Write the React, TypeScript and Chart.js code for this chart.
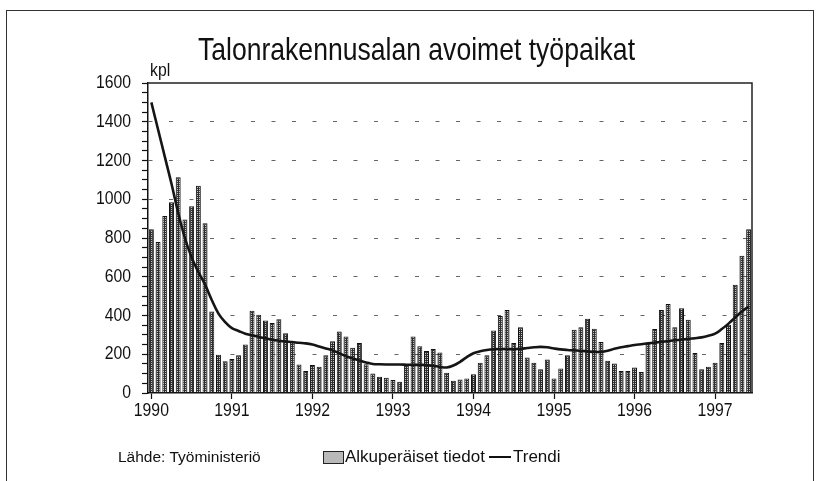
import { useEffect, useRef } from "react";
import { Chart, registerables } from "chart.js";

Chart.register(...registerables);

const years = ["1990", "1991", "1992", "1993", "1994", "1995", "1996", "1997"];
const monthsPerYear = 12;
const monthCount = 90;

const originalValues = [
  845, 780, 913, 985, 1113, 896, 964, 1070, 876, 421, 198, 164,
  176, 195, 250, 424, 404, 374, 361, 381, 309, 263, 147, 113,
  144, 135, 195, 267, 318, 292, 233, 258, 149, 101, 84, 79,
  67, 58, 144, 292, 241, 217, 227, 209, 104, 63, 70, 75,
  97, 156, 195, 323, 397, 429, 258, 340, 183, 156, 123, 173,
  75, 127, 195, 327, 340, 383, 332, 263, 166, 152, 114, 113,
  132, 109, 258, 330, 429, 460, 340, 438, 378, 207, 123, 135,
  156, 258, 352, 559, 708, 845,
];

const trendValues = [
  1500, 1360, 1220, 1080, 930, 800, 700, 625, 560, 480, 410, 366,
  335, 320, 306, 298, 290, 282, 275, 270, 266, 263, 259, 256,
  250, 240, 230, 220, 205, 190, 178, 168, 158, 150, 148, 147,
  147, 147, 146, 145, 145, 144, 140, 135, 132, 142, 161, 185,
  205, 215, 222, 226, 227, 227, 226, 228, 232, 236, 238, 236,
  230, 225, 222, 220, 218, 215, 212, 212, 218, 228, 236, 242,
  248, 252, 256, 260, 264, 268, 272, 275, 280, 283, 287, 295,
  306, 330, 358, 390, 421, 446,
];

const yTickStep = 50;
const yLabelStep = 200;
const yMax = 1600;

const categories: string[] = years
  .flatMap((y) => Array.from({ length: monthsPerYear }, (_, m) => `${y}-${String(m + 1).padStart(2, "0")}`))
  .slice(0, monthCount);

const FONT = '"Liberation Sans", Arial, Helvetica, sans-serif';
const NARROW = 0.83;

function makePattern(ctx: CanvasRenderingContext2D) {
  const c = document.createElement("canvas");
  c.width = 2;
  c.height = 2;
  const g = c.getContext("2d")!;
  g.fillStyle = "#2e2e2e";
  g.fillRect(0, 0, 2, 2);
  g.fillStyle = "#c4c4c4";
  g.fillRect(1, 1, 1, 1);
  return ctx.createPattern(c, "repeat")!;
}

const framePlugin = {
  id: "frame",
  afterDraw(chart: any) {
    const { ctx, chartArea } = chart;
    ctx.save();
    ctx.strokeStyle = "#222";
    ctx.lineWidth = 1.5;
    ctx.beginPath();
    ctx.moveTo(chartArea.left, chartArea.top);
    ctx.lineTo(chartArea.right, chartArea.top);
    ctx.lineTo(chartArea.right, chartArea.bottom);
    ctx.stroke();
    ctx.restore();
  },
};

// Tick labels in a narrow (condensed) rendering, placed with the chart's own scales.
const narrowLabelPlugin = {
  id: "narrowLabels",
  afterDraw(chart: any) {
    const { ctx } = chart;
    const xs = chart.scales.x;
    const ys = chart.scales.y;
    ctx.save();
    ctx.fillStyle = "#111";
    ctx.font = `19px ${FONT}`;
    ctx.textBaseline = "middle";
    ctx.textAlign = "right";
    for (const t of ys.ticks) {
      if (t.value % yLabelStep !== 0) continue;
      const py = ys.getPixelForValue(t.value);
      ctx.save();
      ctx.translate(xs.left - 17, py);
      ctx.scale(NARROW, 1);
      ctx.fillText(String(t.value), 0, 0);
      ctx.restore();
    }
    ctx.textAlign = "center";
    categories.forEach((c, i) => {
      if (i % monthsPerYear !== 0) return;
      const px = xs.getPixelForValue(i);
      ctx.save();
      ctx.translate(px, ys.bottom + 18);
      ctx.scale(NARROW, 1);
      ctx.fillText(c.slice(0, 4), 0, 0);
      ctx.restore();
    });
    ctx.restore();
  },
};

export default function App() {
  const ref = useRef<HTMLCanvasElement>(null);
  useEffect(() => {
    const ctx = ref.current!.getContext("2d")!;
    const pattern = makePattern(ctx);
    const chart = new Chart(ctx, {
      data: {
        labels: categories,
        datasets: [
          {
            type: "line",
            label: "Trendi",
            data: trendValues,
            borderColor: "#151515",
            borderWidth: 2.6,
            pointRadius: 0,
            tension: 0.4,
            order: 0,
          },
          {
            type: "bar",
            label: "Alkuperäiset tiedot",
            data: originalValues,
            backgroundColor: pattern,
            borderColor: "#111",
            borderWidth: 1,
            barPercentage: 0.74,
            categoryPercentage: 1,
            order: 1,
          },
        ],
      } as any,
      options: {
        responsive: false,
        animation: false,
        layout: { padding: { left: 0, right: 66, top: 83, bottom: 58 } },
        plugins: {
          legend: { display: false },
          title: { display: false },
          tooltip: { enabled: false },
        },
        scales: {
          x: {
            type: "category",
            offset: true,
            grid: {
              offset: false,
              drawOnChartArea: false,
              tickLength: 6,
              tickWidth: 1.2,
              tickColor: (c: any) => (c.index % monthsPerYear === 0 ? "#111" : "transparent"),
            },
            border: { color: "#111", width: 1.5 },
            ticks: { display: false, autoSkip: false },
            afterFit: (s: any) => {
              s.height = 30;
            },
          },
          y: {
            min: 0,
            max: yMax,
            ticks: { display: false, stepSize: yTickStep, maxTicksLimit: 100, autoSkip: false },
            grid: {
              tickLength: 6,
              tickWidth: 1.2,
              tickColor: "#111",
              color: (c: any) =>
                c.tick && c.tick.value % yLabelStep === 0 && c.tick.value > 0 && c.tick.value < yMax
                  ? "#666"
                  : "transparent",
            },
            border: { color: "#111", width: 1.5, dash: [4, 16.5] },
            afterFit: (s: any) => {
              s.width = 148;
            },
          },
        },
      },
      plugins: [framePlugin, narrowLabelPlugin],
    } as any);
    return () => chart.destroy();
  }, []);

  const narrow = (origin: string) => ({
    transform: `scaleX(${NARROW})`,
    transformOrigin: origin,
  });

  return (
    <div
      style={{
        position: "fixed",
        left: 0,
        top: 0,
        width: 818,
        height: 481,
        background: "#fff",
        fontFamily: FONT,
        color: "#111",
        overflow: "hidden",
      }}
    >
      <div
        style={{
          position: "absolute",
          left: 6,
          top: 10,
          width: 806,
          height: 480,
          borderTop: "1.5px solid #333",
          borderLeft: "1.5px solid #333",
          borderRight: "1.5px solid #333",
        }}
      />
      <canvas ref={ref} width={818} height={481} style={{ position: "absolute", left: 0, top: 0 }} />
      <div
        style={{
          position: "absolute",
          left: 0,
          width: 833,
          top: 31,
          textAlign: "center",
          fontSize: 32,
          lineHeight: "36px",
          whiteSpace: "nowrap",
          ...narrow("416.5px 0"),
        }}
      >
        Talonrakennusalan avoimet työpaikat
      </div>
      <div
        style={{ position: "absolute", left: 150, top: 60, fontSize: 19, lineHeight: "20px", ...narrow("0 0") }}
      >
        kpl
      </div>
      <div
        style={{ position: "absolute", left: 118, top: 447, fontSize: 15.5, lineHeight: "20px", whiteSpace: "nowrap" }}
      >
        Lähde: Työministeriö
      </div>
      <span
        style={{
          position: "absolute",
          left: 323,
          top: 451,
          width: 19,
          height: 11,
          border: "1px solid #222",
          backgroundColor: "#2e2e2e",
          backgroundImage: "radial-gradient(#c4c4c4 0.7px, transparent 0.8px)",
          backgroundSize: "2px 2px",
        }}
      />
      <div
        style={{ position: "absolute", left: 345, top: 446, fontSize: 17, lineHeight: "22px", whiteSpace: "nowrap" }}
      >
        Alkuperäiset tiedot
      </div>
      <span style={{ position: "absolute", left: 489, top: 456, width: 22, height: 2, background: "#111" }} />
      <div
        style={{ position: "absolute", left: 513, top: 446, fontSize: 17, lineHeight: "22px", whiteSpace: "nowrap" }}
      >
        Trendi
      </div>
    </div>
  );
}
